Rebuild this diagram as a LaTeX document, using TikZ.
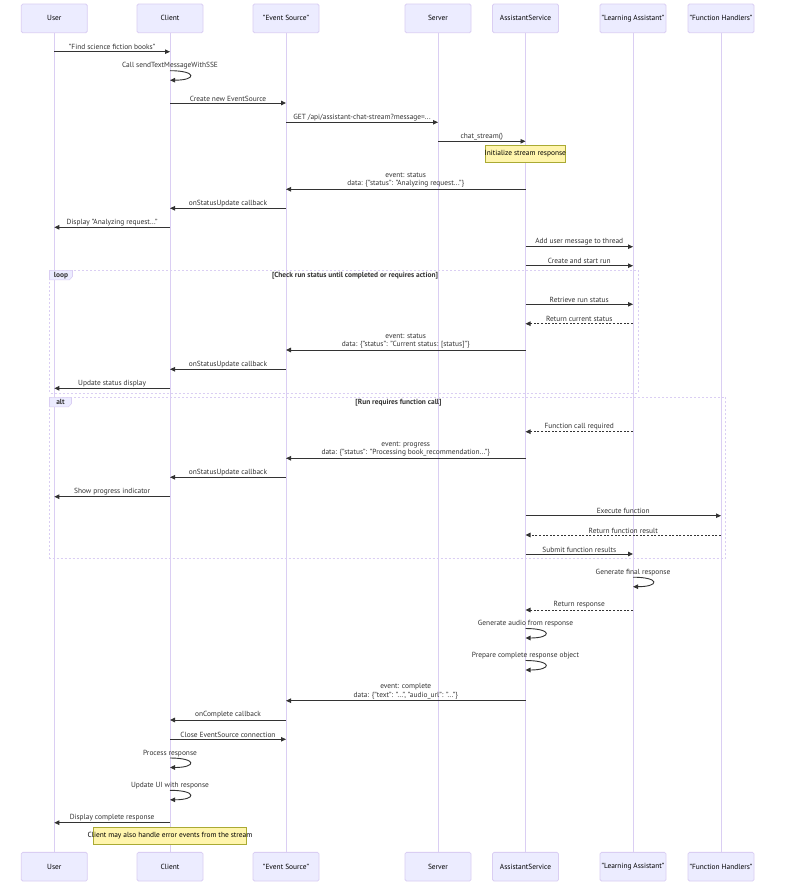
\documentclass[tikz,border=0pt]{standalone}
\usepackage{fontspec}
\setmainfont{PT Sans}
\usepackage{tikz}
\usetikzlibrary{arrows.meta,positioning,calc,backgrounds}
\definecolor{actBg}{HTML}{ECECFF}
\definecolor{actLine}{HTML}{DACEF3}
\definecolor{msgCol}{HTML}{333333}
\definecolor{noteBg}{HTML}{FFF5AD}
\definecolor{noteLine}{HTML}{AAAA33}

% message between two lifelines at height #4
\newcommand\msg[5][msg]{%
  \draw[#1] (#2 |- 0,#4) -- node[lbl] {#5} (#3 |- 0,#4);}
% message to itself
\newcommand\selfmsg[3]{%
  \draw[msg] (#1 |- 0,#2) .. controls +(27,0) and +(27,0) .. (#1 |- 0,#2+9.5);
  \node[lbl] at (#1 |- 0,#2) {#3};}

\begin{document}
\begin{tikzpicture}[
  x=1pt, y=-1pt,
  font=\fontsize{7.4}{8.4}\selectfont,
  actor/.style={draw=actLine, fill=actBg, line width=0.8pt, rounded corners=1.5pt,
    minimum width=66pt, minimum height=28.7pt, inner sep=0pt, text=black},
  life/.style={actLine, line width=1pt},
  msg/.style={msgCol, line width=0.9pt, -{Triangle[length=5pt,width=4.5pt]}},
  ret/.style={msg, dash pattern=on 2pt off 1.6pt},
  lbl/.style={above, inner sep=1.2pt, align=center, text=msgCol},
  note/.style={draw=noteLine, fill=noteBg, line width=0.6pt, inner sep=0pt,
    minimum height=17.4pt, text=black},
  frame/.style={actLine, line width=0.8pt, dash pattern=on 2pt off 2pt},
  tab/.style={fill=actBg, draw=actLine, line width=0.6pt},
  ftitle/.style={font=\fontsize{7.4}{8.4}\selectfont\bfseries, text=msgCol, inner sep=0pt}
]
\useasboundingbox (0,0) rectangle (784,896);
\fill[white] (0,0) rectangle (784,896);

% participants, top and bottom
\foreach \n/\x/\lab in {
  user/54.3/User,
  client/170/Client,
  es/286/"Event Source",
  server/438/Server,
  as/525.5/AssistantService,
  la/633/"Learning Assistant",
  fh/721/"Function Handlers"} {
  \draw[life] (\x,32.7) -- (\x,852.3);
  \node[actor] (\n) at (\x,18.4) {\lab};
  \node[actor] (\n B) at (\x,866.7) {\lab};
}

% loop frame
\draw[frame] (49.5,270.3) rectangle (638,393);
\draw[tab] (49.5,270.3) -- (72.5,270.3) -- (72.5,276.5) -- (69.5,279.8) -- (49.5,279.8) -- cycle;
\node[ftitle] (looplab) at (61,275.2) {loop};
\node[ftitle] (looptitle) at (355,275.7) {[Check run status until completed or requires action]};

% alt frame
\draw[frame] (49.5,397.3) rectangle (725.5,558.3);
\draw[tab] (49.5,397.3) -- (71.5,397.3) -- (71.5,403.5) -- (68.5,406.8) -- (49.5,406.8) -- cycle;
\node[ftitle] (altlab) at (60.5,402.2) {alt};
\node[ftitle] (alttitle) at (398.5,402.7) {[Run requires function call]};

% messages
\msg{user}{client}{51.7}{"Find science fiction books"}
\selfmsg{client}{70.7}{Call sendTextMessageWithSSE}
\msg{client}{es}{103}{Create new EventSource}
\msg{es}{server}{122.3}{GET /api/assistant-chat-stream?message=...}
\msg{server}{as}{141.3}{chat\_stream()}
\node[note, minimum width=80.7pt] (initnote) at (525.3,154) {\makebox[0pt]{Initialize stream response}};
\msg{as}{es}{189.3}{event: status\\data: \{"status": "Analyzing request..."\}}
\msg{es}{client}{208.3}{onStatusUpdate callback}
\msg{client}{user}{227.3}{Display "Analyzing request..."}
\msg{as}{la}{246.7}{Add user message to thread}
\msg{as}{la}{265.7}{Create and start run}

\msg{as}{la}{304.3}{Retrieve run status}
\msg[ret]{la}{as}{323.7}{Return current status}
\msg{as}{es}{350}{event: status\\data: \{"status": "Current status: [status]"\}}
\msg{es}{client}{369.3}{onStatusUpdate callback}
\msg{client}{user}{388.3}{Update status display}

\msg[ret]{la}{as}{431.7}{Function call required}
\msg{as}{es}{458.3}{event: progress\\data: \{"status": "Processing book\_recommendation..."\}}
\msg{es}{client}{477.3}{onStatusUpdate callback}
\msg{client}{user}{496.7}{Show progress indicator}
\msg{as}{fh}{515.7}{Execute function}
\msg[ret]{fh}{as}{535}{Return function result}
\msg{as}{la}{554}{Submit function results}

\selfmsg{la}{577.2}{Generate final response}
\msg[ret]{la}{as}{610}{Return response}
\selfmsg{as}{628.5}{Generate audio from response}
\selfmsg{as}{660.5}{Prepare complete response object}
\msg{as}{es}{700.7}{event: complete\\data: \{"text": "...", "audio\_url": "..."\}}
\msg{es}{client}{720}{onComplete callback}
\msg{client}{es}{739.3}{Close EventSource connection}
\selfmsg{client}{758}{Process response}
\selfmsg{client}{790.3}{Update UI with response}
\msg{client}{user}{822.7}{Display complete response}
\node[note, minimum width=153.4pt] (errnote) at (170,835.7) {\makebox[0pt]{Client may also handle error events from the stream}};
\end{tikzpicture}
\end{document}
